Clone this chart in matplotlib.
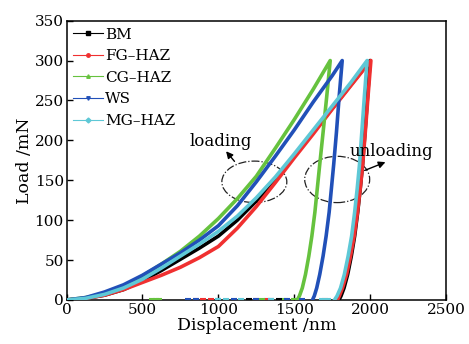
import matplotlib.pyplot as plt
from matplotlib.lines import Line2D
from matplotlib.patches import Ellipse

plt.rcParams['font.family'] = ['DejaVu Serif']

names = ["BM", "FG\u2013HAZ", "CG\u2013HAZ", "WS", "MG\u2013HAZ"]
colors = ["#000000", "#f03030", "#66c23e", "#2150b8", "#5ec8d6"]
markers = ["s", "o", "^", "v", "D"]
keys = ["BM", "FG", "CG", "WS", "MG"]

# loading branch: displacement (nm) -> load (mN)
load_h = {
    "BM": [0, 125, 250, 375, 500, 625, 750, 875, 1000, 1125, 1250, 1375, 1500, 1625, 1750, 1875, 2000],
    "FG": [0, 125, 250, 375, 500, 625, 750, 875, 1000, 1125, 1250, 1375, 1500, 1625, 1750, 1875, 2005],
    "CG": [0, 125, 250, 375, 500, 625, 750, 875, 1000, 1125, 1250, 1375, 1500, 1625, 1737],
    "WS": [0, 125, 250, 375, 500, 625, 750, 875, 1000, 1125, 1250, 1375, 1500, 1625, 1750, 1816],
    "MG": [0, 125, 250, 375, 500, 625, 750, 875, 1000, 1125, 1250, 1375, 1500, 1625, 1750, 1875, 1980],
}
load_p = {
    "BM": [0, 2, 6, 13, 24, 37, 51, 65, 80, 100, 124, 150, 180, 210, 240, 270, 300],
    "FG": [0, 2, 6, 13, 22, 31, 41, 53, 67, 90, 117, 147, 178, 208, 239, 269, 300],
    "CG": [0, 3, 8, 17, 30, 45, 61, 80, 102, 127, 155, 190, 226, 264, 300],
    "WS": [0, 3, 10, 19, 31, 45, 59, 75, 93, 118, 148, 180, 213, 248, 281, 300],
    "MG": [0, 2, 7, 15, 26, 40, 55, 70, 86, 105, 128, 154, 183, 213, 243, 273, 300],
}

# unloading branch: same load levels for every curve
unload_p = [300, 255, 210, 170, 140, 110, 80, 55, 32, 15, 5, 0]
unload_h = {
    "BM": [2000, 1983, 1966, 1950, 1935, 1918, 1898, 1876, 1852, 1828, 1808, 1795],
    "FG": [2005, 1986, 1968, 1951, 1935, 1917, 1895, 1871, 1845, 1818, 1797, 1785],
    "CG": [1737, 1714, 1690, 1668, 1652, 1636, 1616, 1596, 1574, 1553, 1534, 1520],
    "WS": [1816, 1796, 1778, 1760, 1745, 1730, 1710, 1690, 1668, 1648, 1632, 1620],
    "MG": [1980, 1962, 1945, 1930, 1915, 1898, 1878, 1855, 1830, 1805, 1782, 1765],
}

# stray points logged at zero load
base_h = {
    "BM": [1200, 1400, 1780],
    "FG": [850, 900, 950, 1250, 1320, 1700],
    "CG": [560, 590, 610, 1290, 1440, 1500],
    "WS": [800, 850, 1000, 1100, 1250, 1350, 1450, 1550],
    "MG": [1000, 1050, 1150, 1350, 1680, 1720],
}

fig = plt.figure(figsize=(4.69, 3.44), dpi=100)
ax = fig.add_axes([0.142, 0.128, 0.809, 0.812])

for k, c in zip(keys, colors):
    ax.plot(load_h[k] + unload_h[k], load_p[k] + unload_p, color=c, lw=2.6,
            solid_joinstyle='round', zorder=3)
    ax.plot(base_h[k], [1] * len(base_h[k]), ls='none', marker='_', ms=4,
            mew=1.5, color=c, zorder=3)

ax.set_xlim(0, 2500)
ax.set_ylim(0, 350)
ax.set_xticks([0, 500, 1000, 1500, 2000, 2500])
ax.set_yticks([0, 50, 100, 150, 200, 250, 300, 350])
ax.tick_params(direction='in', length=4, width=1, labelsize=11, pad=2)
for s in ax.spines.values():
    s.set_linewidth(1.1)
ax.set_xlabel("Displacement /nm", fontsize=12.5, labelpad=0)
ax.set_ylabel("Load /mN", fontsize=12.5, labelpad=1)

handles = [Line2D([], [], color=c, lw=0.8, marker=m, ms=2.5) for c, m in zip(colors, markers)]
ax.legend(handles, names, loc='upper left', frameon=False, fontsize=11,
          handlelength=1.9, handletextpad=0.15, labelspacing=0.5,
          borderaxespad=0.0, borderpad=0.45, bbox_to_anchor=(0.0, 1.0))

ax.add_patch(Ellipse((1237, 148), 428, 52, fill=False, ls='-.', lw=0.9, color='#222222'))
ax.add_patch(Ellipse((1783, 151), 428, 58, fill=False, ls='-.', lw=0.9, color='#222222'))
ax.text(1013, 198, "loading", fontsize=12, ha='center', va='center')
ax.text(2138, 186, "unloading", fontsize=12, ha='center', va='center')
ax.annotate("", xy=(1039, 189), xytext=(1118, 171),
            arrowprops=dict(arrowstyle='-|>', color='black', lw=1, mutation_scale=10))
ax.annotate("", xy=(2118, 174), xytext=(1947, 161),
            arrowprops=dict(arrowstyle='-|>', color='black', lw=1, mutation_scale=10))

fig.savefig("out.png", dpi=100)
